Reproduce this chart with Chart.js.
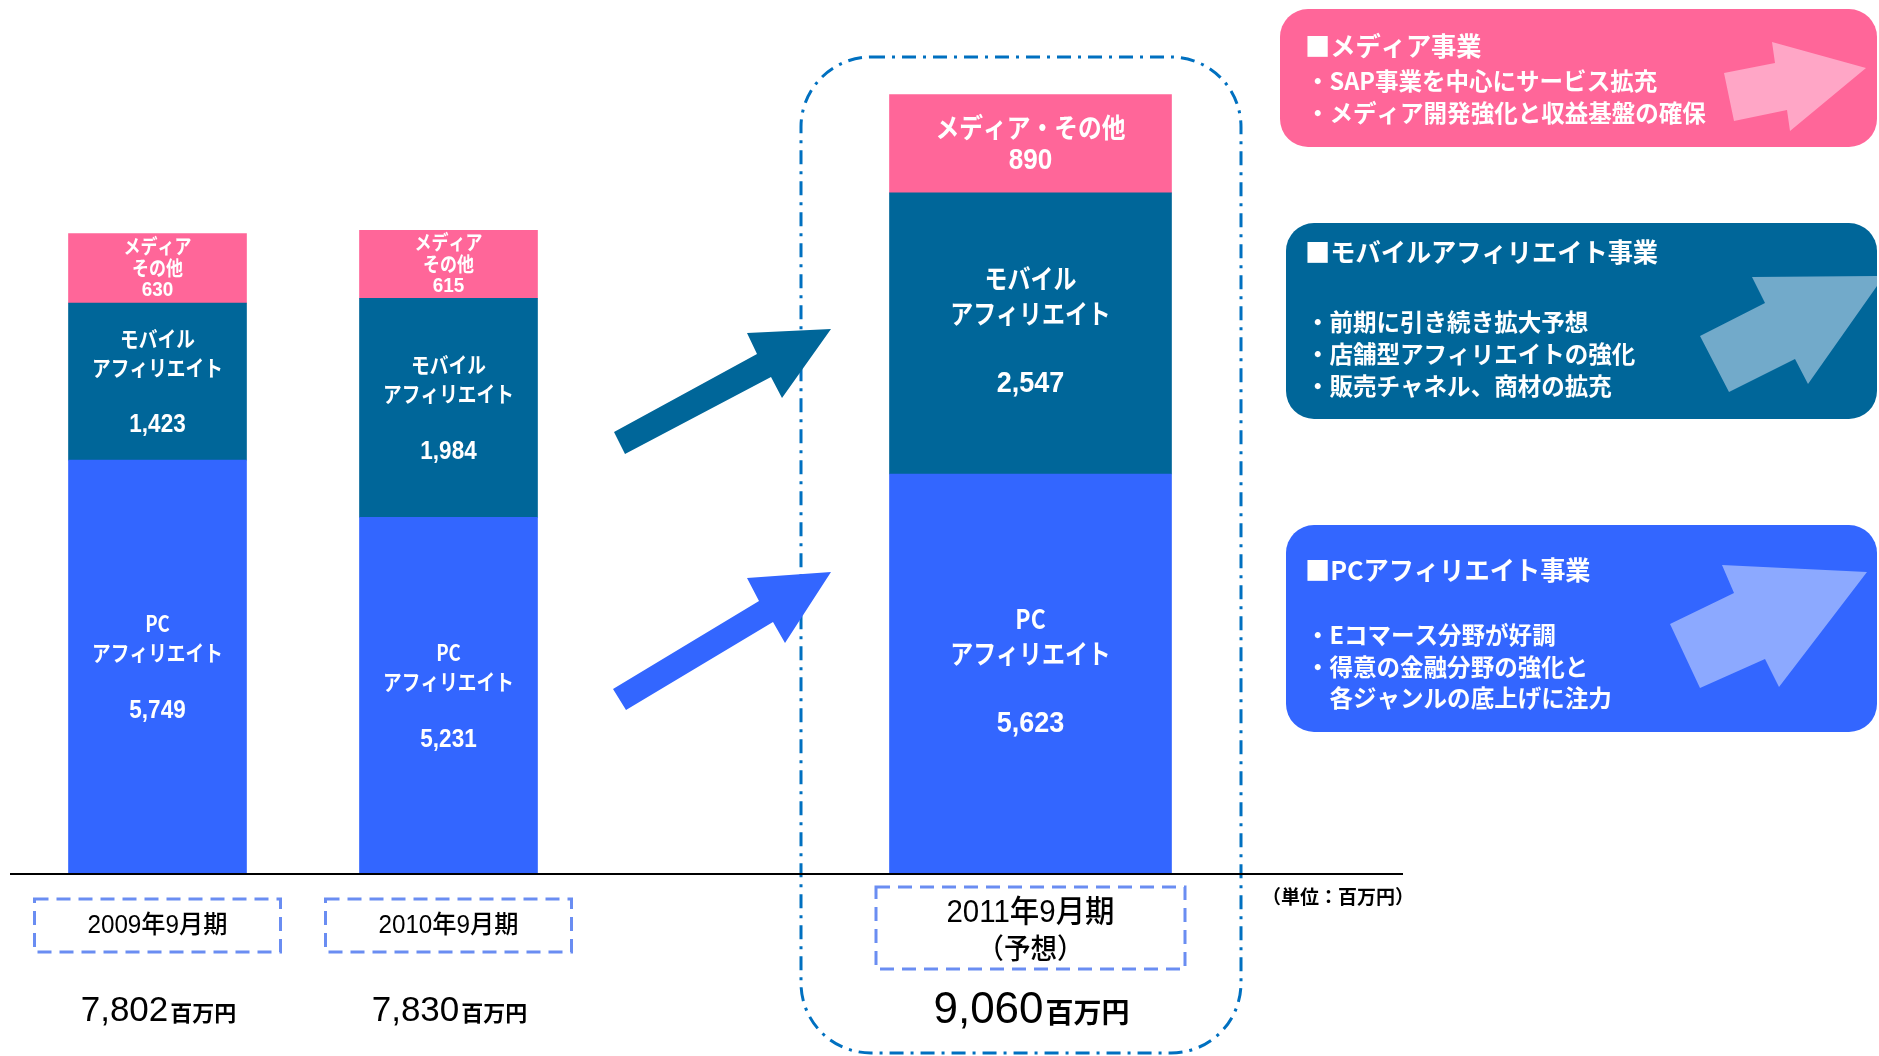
<!DOCTYPE html>
<html lang="ja">
<head>
<meta charset="utf-8">
<title>事業別売上高推移</title>
<script src="https://cdn.jsdelivr.net/npm/chart.js@4.4.1/dist/chart.umd.min.js"></script>
<style>
  html, body { margin: 0; padding: 0; background: #fff; }
  #wrap { width: 1879px; height: 1056px; position: relative; overflow: hidden; }
</style>
</head>
<body>
<div id="wrap"><canvas id="chart" width="1879" height="1056"></canvas></div>
<script>
// Data (百万円)
const periods = ['2009年9月期', '2010年9月期', '2011年9月期'];
const periodNotes = ['', '', '（予想）'];
const pcValues = [5749, 5231, 5623];
const mobileValues = [1423, 1984, 2547];
const mediaValues = [630, 615, 890];
const totals = [7802, 7830, 9060];
const totalUnit = '百万円';
const unitLabel = '（単位：百万円）';

const businessNotes = [
  { title: '■メディア事業', lines: ['・SAP事業を中心にサービス拡充', '・メディア開発強化と収益基盤の確保'] },
  { title: '■モバイルアフィリエイト事業', lines: ['・前期に引き続き拡大予想', '・店舗型アフィリエイトの強化', '・販売チャネル、商材の拡充'] },
  { title: '■PCアフィリエイト事業', lines: ['・Eコマース分野が好調', '・得意の金融分野の強化と', '　各ジャンルの底上げに注力'] },
];

const PINK = '#FF6699', TEAL = '#006699', BLUE = '#3366FF';
const JP = '"Noto Sans CJK JP", "Noto Sans", sans-serif';
const NUM = '"Liberation Sans", Arial, ' + JP;

// two actual years, an empty slot, then the forecast year
const slotLabels = [periods[0], periods[1], '', periods[2]];
const slotOf = [0, 1, 3];
const isForecast = i => periodNotes[i] !== '';

function toSlots(values, forecast) {
  const out = slotLabels.map(() => null);
  values.forEach((v, i) => { if (isForecast(i) === forecast) out[slotOf[i]] = v; });
  return out;
}

function makeSets(forecast) {
  const thick = forecast ? 282 : 178;
  return [
    { seg: 'pc', forecast, names: ['PC', 'アフィリエイト'], data: toSlots(pcValues, forecast), backgroundColor: BLUE, barThickness: thick },
    { seg: 'mobile', forecast, names: ['モバイル', 'アフィリエイト'], data: toSlots(mobileValues, forecast), backgroundColor: TEAL, barThickness: thick },
    { seg: 'media', forecast, names: forecast ? ['メディア・その他'] : ['メディア', 'その他'], data: toSlots(mediaValues, forecast), backgroundColor: PINK, barThickness: thick },
  ];
}

function txt(ctx, s, x, y, font, color, squeeze = 1, align = 'center', base = 'middle') {
  ctx.font = font;
  ctx.fillStyle = color;
  ctx.textAlign = align;
  ctx.textBaseline = base;
  ctx.fillText(s, x, y, ctx.measureText(s).width * squeeze);
}

function poly(ctx, pts, color) {
  ctx.beginPath();
  pts.forEach(([x, y], i) => i ? ctx.lineTo(x, y) : ctx.moveTo(x, y));
  ctx.closePath();
  ctx.fillStyle = color;
  ctx.fill();
}

const fmt = v => v.toLocaleString('en-US');

const decor = {
  id: 'decor',
  beforeDatasetsDraw(chart) {
    const ctx = chart.ctx;
    // dash-dot frame round the forecast year
    ctx.save();
    ctx.strokeStyle = '#0070C0';
    ctx.lineWidth = 3;
    ctx.setLineDash([14, 7, 3, 7]);
    ctx.beginPath();
    ctx.roundRect(801, 57, 440, 996, 70);
    ctx.stroke();
    ctx.restore();
  },
  afterDatasetsDraw(chart) {
    const ctx = chart.ctx;
    const xs = chart.scales.x;
    const area = chart.chartArea;
    ctx.save();

    // segment labels
    chart.data.datasets.forEach((ds, di) => {
      const meta = chart.getDatasetMeta(di);
      meta.data.forEach((bar, idx) => {
        const v = ds.data[idx];
        if (v == null) return;
        const { x, y, base } = bar.getProps(['x', 'y', 'base'], true);
        const bottom = Math.min(base, area.bottom);
        const cy = (y + bottom) / 2;
        if (ds.forecast) {
          if (ds.seg === 'media') {
            txt(ctx, ds.names[0], x, cy - 16, `bold 27px ${JP}`, '#fff', 0.88);
            txt(ctx, fmt(v), x, cy + 17, `bold 29px ${NUM}`, '#fff', 0.9);
          } else {
            txt(ctx, ds.names[0], x, cy - 55, `bold 27px ${JP}`, '#fff', 0.85);
            txt(ctx, ds.names[1], x, cy - 20, `bold 27px ${JP}`, '#fff', 0.85);
            txt(ctx, fmt(v), x, cy + 50, `bold 30px ${NUM}`, '#fff', 0.9);
          }
        } else {
          if (ds.seg === 'media') {
            txt(ctx, ds.names[0], x, cy - 22, `bold 20px ${JP}`, '#fff', 0.85);
            txt(ctx, ds.names[1], x, cy, `bold 20px ${JP}`, '#fff', 0.85);
            txt(ctx, fmt(v), x, cy + 22, `bold 21px ${NUM}`, '#fff', 0.9);
          } else {
            txt(ctx, ds.names[0], x, cy - 43, `bold 22px ${JP}`, '#fff', 0.85);
            txt(ctx, ds.names[1], x, cy - 14, `bold 22px ${JP}`, '#fff', 0.85);
            txt(ctx, fmt(v), x, cy + 44, `bold 25px ${NUM}`, '#fff', 0.9);
          }
        }
      });
    });

    // baseline
    ctx.strokeStyle = '#000';
    ctx.lineWidth = 2;
    ctx.beginPath();
    ctx.moveTo(10, area.bottom);
    ctx.lineTo(1403, area.bottom);
    ctx.stroke();

    // period boxes and totals
    periods.forEach((p, i) => {
      const x = xs.getPixelForValue(slotOf[i]);
      const f = isForecast(i);
      const w = f ? 309 : 246, h = f ? 82 : 53, top = f ? 887 : 899;
      ctx.save();
      ctx.strokeStyle = '#6A8DF2';
      ctx.lineWidth = 3;
      ctx.setLineDash([14, 8]);
      ctx.strokeRect(x - w / 2, top, w, h);
      ctx.restore();
      if (f) {
        txt(ctx, p, x, 913, `500 31px ${NUM}`, '#000', 0.95);
        txt(ctx, periodNotes[i], x, 948, `500 28px ${JP}`, '#000', 0.95);
      } else {
        txt(ctx, p, x, 926, `500 25px ${NUM}`, '#000', 0.97);
      }
      const numFont = f ? `44px ${NUM}` : `35px ${NUM}`;
      const unitFont = f ? `bold 28px ${JP}` : `bold 22px ${JP}`;
      const s = fmt(totals[i]);
      ctx.font = numFont;
      const w1 = ctx.measureText(s).width;
      ctx.font = unitFont;
      const w2 = ctx.measureText(totalUnit).width;
      const left = x - (w1 + w2) / 2;
      const yb = f ? 1023 : 1021;
      txt(ctx, s, left, yb, numFont, '#000', 1, 'left', 'alphabetic');
      txt(ctx, totalUnit, left + w1 + 2, yb, unitFont, '#000', 1, 'left', 'alphabetic');
    });
    txt(ctx, unitLabel, 1262, 897, `bold 19px ${JP}`, '#000', 1, 'left');

    // growth arrows between the bars
    poly(ctx, [[614, 432], [757, 354], [747, 333], [831, 329], [782, 398], [771, 377], [625, 454]], TEAL);
    poly(ctx, [[613, 689], [759, 601], [747, 578], [831, 572], [785, 643], [773, 622], [626, 710]], BLUE);

    // business notes on the right
    const boxes = [
      { x: 1280, y: 9, w: 597, h: 138, fill: PINK, arrow: '#FFA6C6', ty: 46, ly: [81, 113],
        pts: [[1724, 73], [1775, 63], [1772, 42], [1866, 68], [1790, 131], [1787, 110], [1734, 121]] },
      { x: 1286, y: 223, w: 591, h: 196, fill: TEAL, arrow: '#72AACA', ty: 252, ly: [322, 354, 386],
        pts: [[1700, 336], [1765, 303], [1752, 277], [1884, 276], [1808, 384], [1795, 359], [1729, 392]] },
      { x: 1286, y: 525, w: 591, h: 207, fill: BLUE, arrow: '#8CA9FF', ty: 570, ly: [635, 667, 698],
        pts: [[1670, 624], [1734, 593], [1722, 565], [1867, 572], [1779, 687], [1765, 659], [1700, 688]] },
    ];
    boxes.forEach((b, i) => {
      ctx.beginPath();
      ctx.roundRect(b.x, b.y, b.w, b.h, 28);
      ctx.fillStyle = b.fill;
      ctx.fill();
      ctx.save();
      ctx.clip();
      poly(ctx, b.pts, b.arrow);
      ctx.restore();
      const note = businessNotes[i];
      txt(ctx, note.title, 1305, b.ty, `bold 26px ${JP}`, '#fff', 0.97, 'left');
      note.lines.forEach((line, k) => {
        txt(ctx, line, 1306, b.ly[k], `bold 24px ${JP}`, '#fff', 0.98, 'left');
      });
    });

    ctx.restore();
  },
};

new Chart(document.getElementById('chart'), {
  type: 'bar',
  data: {
    labels: slotLabels,
    datasets: [...makeSets(false), ...makeSets(true)],
  },
  options: {
    responsive: false,
    animation: false,
    devicePixelRatio: 1,
    events: [],
    layout: { padding: { left: 12, right: 703, top: 46, bottom: 182 } },
    plugins: { legend: { display: false }, tooltip: { enabled: false } },
    scales: {
      x: { stacked: true, display: false },
      y: { stacked: true, display: false, min: 2000, max: 9500 },
    },
  },
  plugins: [decor],
});
</script>
</body>
</html>
